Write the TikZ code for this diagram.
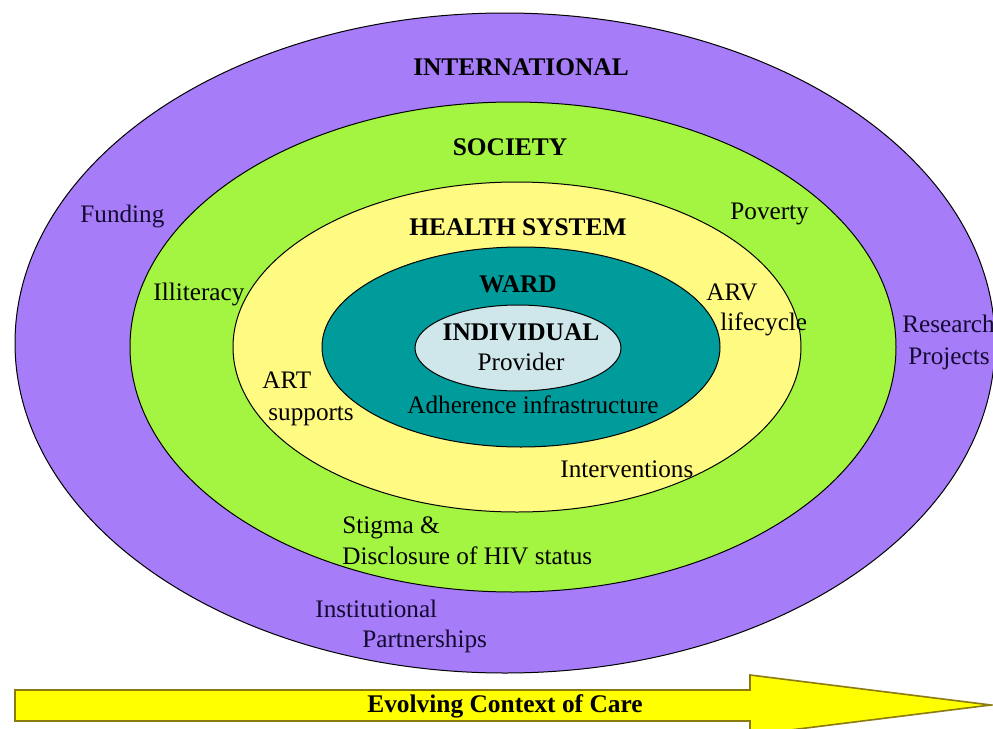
\documentclass[tikz,border=0pt]{standalone}
\usepackage{fontspec}
\setmainfont{Liberation Serif}

\definecolor{intlpurple}{HTML}{A67CF8}
\definecolor{socgreen}{HTML}{A4F442}
\definecolor{hsyellow}{HTML}{FFFA82}
\definecolor{wardteal}{HTML}{009C9C}
\definecolor{indblue}{HTML}{CFE6EA}
\definecolor{arrowyellow}{HTML}{FFFF00}
\definecolor{arrowedge}{HTML}{8A7A10}
\definecolor{outertext}{HTML}{120A30}

\tikzset{
    ring/.style={draw=black, line width=0.5pt},
    level/.style={anchor=base, font=\fontsize{12.7}{15}\selectfont\bfseries},
    factor/.style={anchor=base west, font=\fontsize{12.6}{15}\selectfont},
}

\begin{document}
\begin{tikzpicture}[x=0.5pt, y=-0.5pt, every node/.style={inner sep=0pt}]
            \clip (0,0) rectangle (993,729);
            \fill[white] (0,0) rectangle (993,729);
            % nested contexts
            \draw[ring, fill=intlpurple] (505,343) ellipse [x radius=490, y radius=330];
            \draw[ring, fill=socgreen] (513,347) ellipse [x radius=383, y radius=245];
            \draw[ring, fill=hsyellow] (517,347) ellipse [x radius=284, y radius=165];
            \draw[ring, fill=wardteal] (521,347) ellipse [x radius=199, y radius=100];
            \draw[ring, fill=indblue] (518,348) ellipse [x radius=103, y radius=43];
            % level names
            \node[level] (intl) at (521,75) {INTERNATIONAL};
            \node[level] (society) at (510,155) {SOCIETY};
            \node[level] (health) at (518,235) {HEALTH SYSTEM};
            \node[level] (ward) at (518,292) {WARD};
            \node[level] (indiv) at (521,340) {INDIVIDUAL};
            \node[factor, anchor=base] (provider) at (521,370) {Provider};
            % factors
            \node[factor] (adherence) at (407,413) {Adherence infrastructure};
            \node[factor, text=outertext] (funding) at (80,222) {Funding};
            \node[factor] (illiteracy) at (153,300) {Illiteracy};
            \node[factor] (poverty) at (730,219) {Poverty};
            \node[factor] (arv) at (706,300) {ARV};
            \node[factor] (lifecycle) at (720,330) {lifecycle};
            \node[factor, text=outertext] (research) at (902,332) {Research};
            \node[factor, text=outertext] (projects) at (908,364) {Projects};
            \node[factor] (art) at (262,388) {ART};
            \node[factor] (supports) at (268,420) {supports};
            \node[factor] (interventions) at (560,477) {Interventions};
            \node[factor] (stigma) at (342,533) {Stigma \&};
            \node[factor] (disclosure) at (342,564) {Disclosure of HIV status};
            \node[factor, text=outertext] (institutional) at (315,617) {Institutional};
            \node[factor, text=outertext] (partnerships) at (362,647) {Partnerships};
            % timeline arrow
            \draw[line width=0.8pt, draw=arrowedge, fill=arrowyellow]
                (15,690) -- (750,690) -- (750,675) -- (991,705)
                -- (750,735) -- (750,721) -- (15,721) -- cycle;
            \node[level] (context) at (505,712) {Evolving Context of Care};
\end{tikzpicture}
\end{document}
